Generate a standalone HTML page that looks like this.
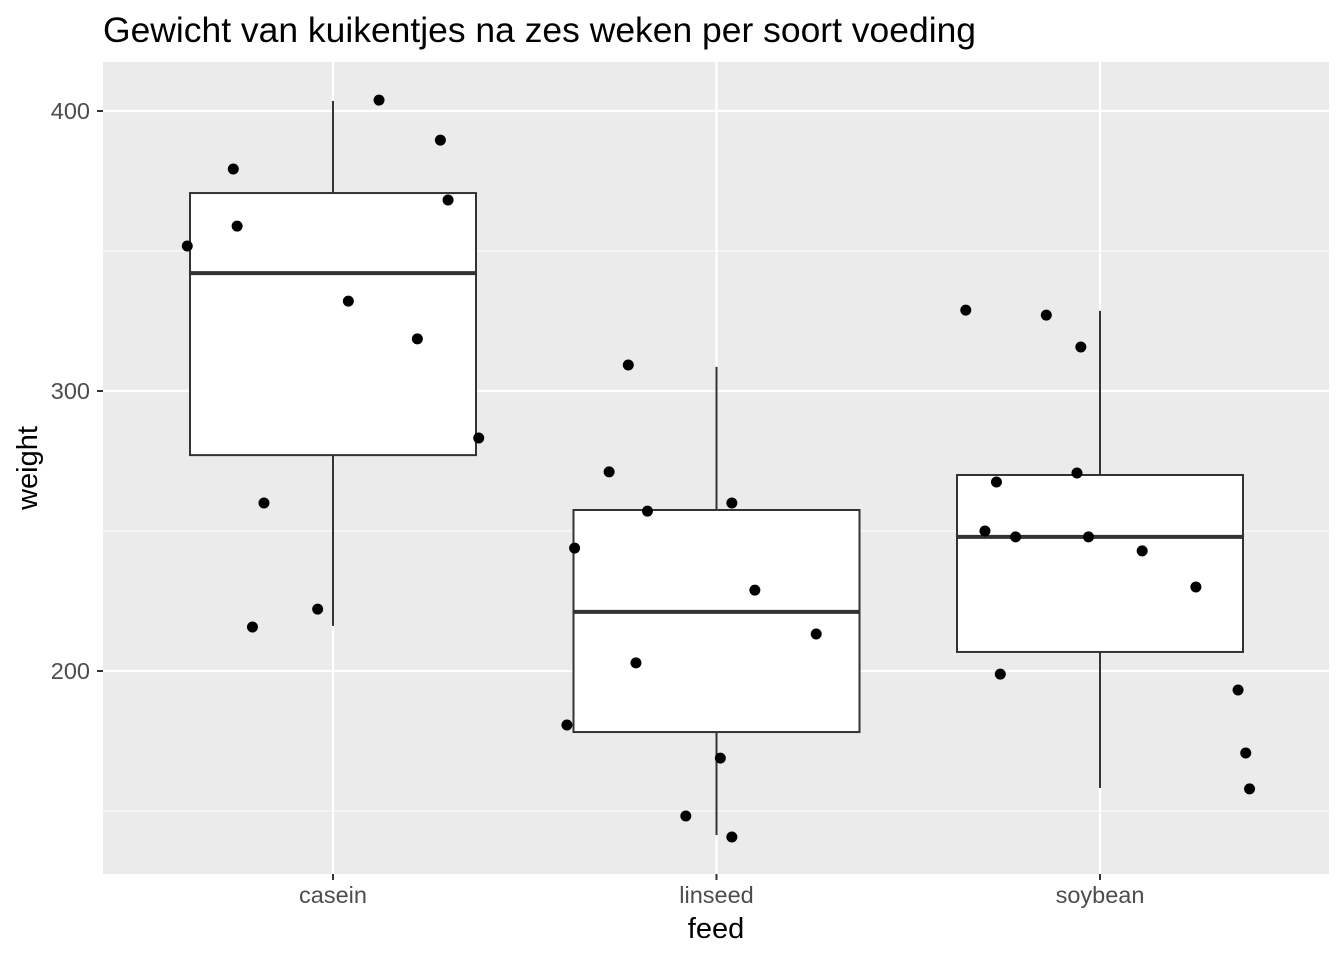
<!DOCTYPE html>
<html><head><meta charset="utf-8"><style>
body{margin:0;background:#fff;font-family:"Liberation Sans",sans-serif}
</style></head><body>
<svg id="chart" width="1344" height="960" xmlns="http://www.w3.org/2000/svg">
<text x="103" y="42" font-size="35" fill="#000" textLength="873" lengthAdjust="spacingAndGlyphs">Gewicht van kuikentjes na zes weken per soort voeding</text>
<rect x="103" y="62" width="1226" height="812" fill="#ebebeb"/>
<g id="grid"></g><g id="boxes"></g><g id="pts"></g><g id="axes"></g>
<text x="716" y="938" font-size="29" text-anchor="middle">feed</text>
<text transform="translate(37,468) rotate(-90)" font-size="29" text-anchor="middle">weight</text>
</svg>
<script>
const categories=["casein","linseed","soybean"];
const q1=[277.1,178.2,206.8];
const medians=[342.1,221.1,247.9];
const q3=[370.7,257.5,270];
const whiskerLow=[216.1,141.4,158.2];
const whiskerHigh=[403.6,308.6,328.6];
const caseinVals=[351.8,379.3,358.9,260,215.7,222.1,332.1,403.9,318.6,389.6,368.2,283.2];
const caseinJit=[-0.38,-0.26,-0.25,-0.18,-0.21,-0.04,0.04,0.12,0.22,0.28,0.30,0.38];
const linseedVals=[309.3,271.1,257.1,243.9,260,228.9,213.2,202.9,180.7,168.9,148.2,140.7];
const linseedJit=[-0.23,-0.28,-0.18,-0.37,0.04,0.10,0.26,-0.21,-0.39,0.01,-0.08,0.04];
const soyVals=[328.9,327.1,315.7,267.5,270.7,250,247.9,247.9,242.9,230,198.9,193.2,170.7,157.9];
const soyJit=[-0.35,-0.14,-0.05,-0.27,-0.06,-0.30,-0.22,-0.03,0.11,0.25,-0.26,0.36,0.38,0.39];
const yTicks=[200,300,400];
const yMinor=[150,250,350];
const NS="http://www.w3.org/2000/svg";
const y=v=>391-(v-300)*2.8;
const x=i=>333+i*383.5;
function mk(p,t,a){const e=document.createElementNS(NS,t);for(const k in a)e.setAttribute(k,a[k]);document.getElementById(p).appendChild(e);return e;}
yMinor.forEach(v=>{const e=mk("grid","line",{x1:103,x2:1329,y1:y(v),y2:y(v),stroke:"#fff","stroke-width":1.1});

});
yTicks.forEach(v=>{const e=mk("grid","line",{x1:103,x2:1329,y1:y(v),y2:y(v),stroke:"#fff","stroke-width":2.2});


const t=mk("axes","text",{x:90,y:y(v)+8,"font-size":23.5,fill:"#4d4d4d","text-anchor":"end"});t.textContent=v;


const tk=mk("axes","line",{x1:97,x2:103,y1:y(v),y2:y(v),stroke:"#333","stroke-width":2});

});
categories.forEach((c,i)=>{const g=mk("grid","line",{x1:x(i),x2:x(i),y1:62,y2:874,stroke:"#fff","stroke-width":2.2});


const w1=mk("boxes","line",{x1:x(i),x2:x(i),y1:y(whiskerHigh[i]),y2:y(q3[i]),stroke:"#333","stroke-width":2});


const w2=mk("boxes","line",{x1:x(i),x2:x(i),y1:y(q1[i]),y2:y(whiskerLow[i]),stroke:"#333","stroke-width":2});


const b=mk("boxes","rect",{x:x(i)-143,y:y(q3[i]),width:286,height:y(q1[i])-y(q3[i]),fill:"#fff",stroke:"#333","stroke-width":2});


const m=mk("boxes","line",{x1:x(i)-143,x2:x(i)+143,y1:y(medians[i]),y2:y(medians[i]),stroke:"#333","stroke-width":4});


const tk=mk("axes","line",{x1:x(i),x2:x(i),y1:874,y2:880,stroke:"#333","stroke-width":2});


const t=mk("axes","text",{x:x(i),y:903,"font-size":23.5,fill:"#4d4d4d","text-anchor":"middle"});t.textContent=c;

});
[[caseinVals,caseinJit],[linseedVals,linseedJit],[soyVals,soyJit]].forEach(([vals,jit],i)=>{
vals.forEach((v,k)=>{const p=mk("pts","circle",{cx:x(i+jit[k]),cy:y(v),r:5.5,fill:"#000"});

});});
</script>
</body></html>
